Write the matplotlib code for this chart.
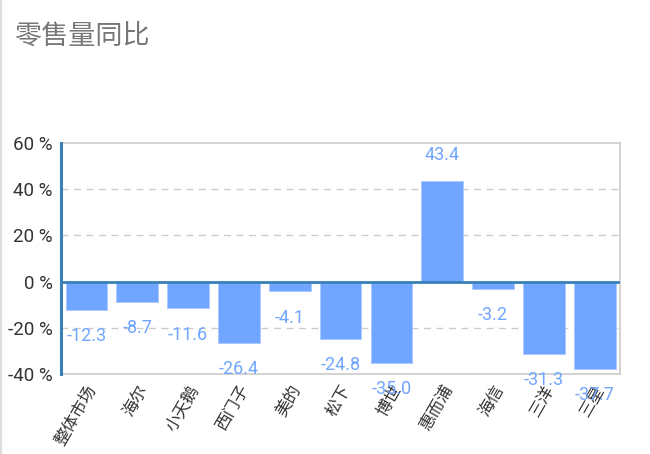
import matplotlib
matplotlib.use("Agg")
import matplotlib.pyplot as plt
from matplotlib.lines import Line2D

plt.rcParams['font.family'] = ['Roboto', 'Noto Sans CJK SC', 'DejaVu Sans']

categories = ["整体市场", "海尔", "小天鹅", "西门子", "美的", "松下", "博世", "惠而浦", "海信", "三洋", "三星"]
values = [-12.3, -8.7, -11.6, -26.4, -4.1, -24.8, -35.0, 43.4, -3.2, -31.3, -37.7]
yticks = [-40, -20, 0, 20, 40, 60]

bar_color = "#70a6ff"
axis_blue = "#3a80b8"
grid_gray = "#cccccc"

fig = plt.figure(figsize=(6.5, 4.54), dpi=100)
ax = fig.add_axes([0.094, 0.176, 0.86, 0.509])

x = list(range(len(categories)))
ax.bar(x, values, width=0.82, color=bar_color, edgecolor="#a9c8ff", linewidth=0.6, zorder=2)

for xi, v in zip(x, values):
    off = 19 if v > 0 else -19
    ax.annotate(f"{v:.1f}", (xi, v), xytext=(0, off), textcoords="offset points",
                ha="center", va="center", fontsize=13, color=bar_color, zorder=4)

ax.set_xlim(-0.5, len(categories) - 0.5)
ax.set_ylim(-40, 60)
ax.set_yticks(yticks)
ax.set_yticklabels([f"{t} %" for t in yticks], fontsize=13.5, color="#333333")
for t in [-20, 20, 40]:
    ax.axhline(t, color=grid_gray, linestyle=(0, (5, 4)), linewidth=1, zorder=1)
ax.axhline(0, color=axis_blue, linewidth=2, zorder=3)

ax.set_xticks(x)
ax.set_xticklabels(categories, rotation=60, ha="right", rotation_mode="anchor",
                   fontsize=12, color="#333333")
ax.tick_params(axis="both", length=0, pad=6)

for s in ["top", "right", "bottom"]:
    ax.spines[s].set_color(grid_gray)
    ax.spines[s].set_linewidth(1.2)
ax.spines["left"].set_color(axis_blue)
ax.spines["left"].set_linewidth(2.2)
ax.spines["left"].set_zorder(5)

fig.text(0.022, 0.92, "零售量同比", fontsize=19.5, color="#777777",
         ha="left", va="center")
fig.add_artist(Line2D([0.001, 0.001], [0, 1], color="#dddddd", linewidth=1.5,
                      transform=fig.transFigure))

fig.savefig("out.png", dpi=100)
